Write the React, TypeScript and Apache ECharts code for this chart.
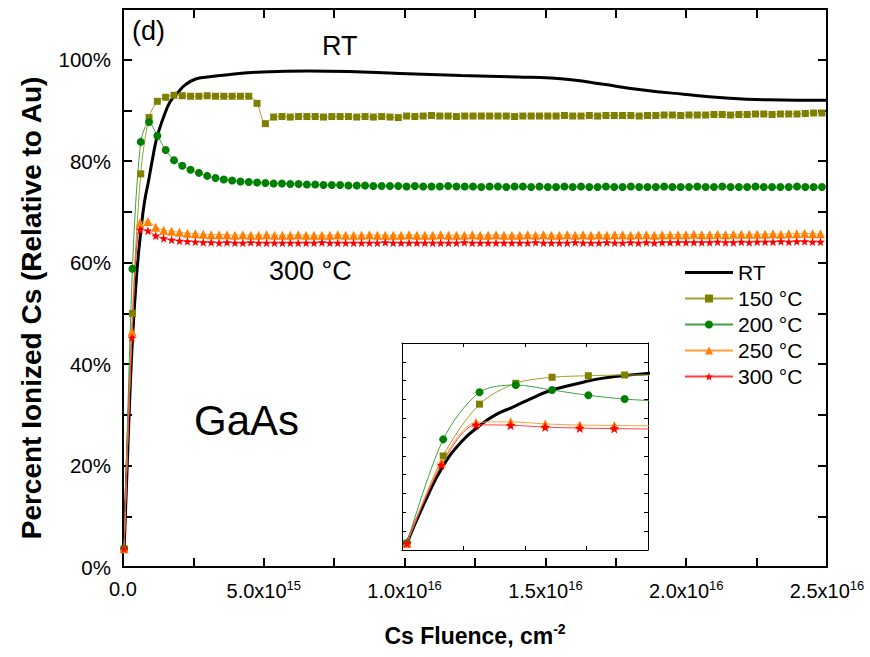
import React, { useEffect, useRef } from 'react';
import * as echarts from 'echarts';

const FONT = '"Liberation Sans", Arial, Helvetica, sans-serif';

// ---- axis ticks ----
const xTickMantissa = ['0.0', '5.0x10', '1.0x10', '1.5x10', '2.0x10', '2.5x10'];
const xTickExponent = ['', '15', '16', '16', '16', '16'];
const seriesNames = ['RT', '150 °C', '200 °C', '250 °C', '300 °C'];
const yTitle = 'Percent Ionized Cs (Relative to Au)';

// ---- RT (black curve) ----
const rtFluence = [0.04e15, 0.187e15, 0.331e15, 0.485e15, 0.62e15, 0.756e15, 0.91e15, 1.054e15, 1.195e15, 1.352e15, 1.488e15, 1.623e15, 1.772e15, 1.99e15, 2.2e15, 2.58e15, 3.0e15, 3.65e15, 4.95e15, 6.6e15, 8.0e15, 9.84e15, 1.2e16, 1.4e16, 1.52e16, 1.6e16, 1.7e16, 1.84e16, 1.99e16, 2.13e16, 2.29e16, 2.5e16];
const rtPercent = [3.6, 25.7, 44.3, 57.6, 65.5, 71.7, 76.2, 80.6, 84.5, 87.3, 89.4, 91.2, 92.5, 93.8, 95.0, 96.2, 96.6, 97.0, 97.6, 97.8, 97.7, 97.3, 96.9, 96.6, 96.4, 96.0, 95.2, 94.1, 93.2, 92.5, 92.1, 92.0];

// ---- sampling grids (fluence, cm^-2) ----
const gridAStart = 0.04e15, gridAStep = 0.295e15; // 150 °C, 200 °C
const gridBStart = 0.04e15, gridBStep = 0.281e15; // 250 °C, 300 °C

const p150 = [
  3.6, 50.0, 77.5, 88.6, 91.8, 92.6, 93.0, 92.9, 92.8, 92.8,
  92.9, 92.8, 92.8, 92.8, 92.8, 92.8, 91.4, 87.4, 88.7, 88.8,
  88.7, 88.8, 88.8, 88.8, 88.7, 88.8, 88.8, 88.8, 88.7, 88.8,
  88.7, 88.8, 88.7, 88.6, 88.9, 88.8, 88.9, 89.0, 88.9, 88.9,
  88.8, 88.9, 88.9, 88.9, 88.9, 88.9, 88.9, 88.8, 88.9, 88.9,
  88.9, 88.9, 88.9, 89.0, 88.9, 88.9, 89.0, 88.9, 89.0, 89.0,
  89.0, 89.0, 88.9, 89.0, 89.0, 89.1, 89.1, 89.0, 89.1, 89.1,
  89.1, 89.2, 89.2, 89.1, 89.2, 89.2, 89.3, 89.3, 89.2, 89.3,
  89.3, 89.3, 89.4, 89.5, 89.5,
];
const p200 = [
  3.6, 58.8, 83.8, 87.7, 85.0, 82.2, 80.2, 79.1, 78.3, 77.7,
  77.1, 76.7, 76.4, 76.2, 76.0, 75.9, 75.8, 75.7, 75.6, 75.6,
  75.5, 75.5, 75.4, 75.4, 75.3, 75.3, 75.3, 75.2, 75.2, 75.2,
  75.1, 75.1, 75.1, 75.1, 75.0, 75.1, 75.0, 75.0, 75.0, 75.1,
  75.0, 75.0, 75.0, 74.9, 75.0, 75.0, 74.9, 75.0, 75.0, 74.9,
  75.0, 74.9, 74.9, 75.0, 74.9, 75.0, 74.9, 74.9, 75.0, 74.9,
  74.9, 75.0, 74.9, 74.9, 74.9, 75.0, 74.9, 74.9, 74.9, 75.0,
  74.9, 74.9, 75.0, 74.9, 74.9, 74.9, 75.0, 74.9, 74.9, 74.9,
  74.9, 75.0, 74.9, 74.9, 74.9,
];
const p250 = [
  3.6, 46.4, 67.8, 68.1, 67.0, 66.4, 66.2, 66.0, 65.8, 65.7,
  65.6, 65.5, 65.5, 65.5, 65.4, 65.5, 65.4, 65.4, 65.5, 65.4,
  65.4, 65.4, 65.5, 65.4, 65.4, 65.4, 65.4, 65.5, 65.4, 65.4,
  65.4, 65.5, 65.4, 65.4, 65.4, 65.4, 65.5, 65.4, 65.4, 65.4,
  65.5, 65.4, 65.4, 65.4, 65.5, 65.4, 65.4, 65.5, 65.4, 65.4,
  65.4, 65.5, 65.4, 65.5, 65.4, 65.4, 65.5, 65.4, 65.5, 65.4,
  65.5, 65.4, 65.5, 65.5, 65.4, 65.5, 65.5, 65.4, 65.5, 65.5,
  65.5, 65.5, 65.6, 65.5, 65.5, 65.6, 65.5, 65.6, 65.6, 65.6,
  65.6, 65.6, 65.7, 65.6, 65.7, 65.7, 65.8, 65.7, 65.7,
];
const p300 = [
  3.6, 45.2, 66.5, 66.3, 65.3, 64.8, 64.5, 64.3, 64.2, 64.1,
  64.0, 64.0, 63.9, 64.0, 63.9, 63.9, 64.0, 63.9, 63.9, 63.9,
  63.9, 63.9, 63.9, 63.9, 63.9, 64.0, 63.9, 63.9, 63.9, 63.9,
  63.9, 63.9, 63.9, 64.0, 63.9, 63.9, 63.9, 63.9, 63.9, 63.9,
  63.9, 63.9, 63.9, 64.0, 63.9, 63.9, 63.9, 63.9, 63.9, 63.9,
  63.9, 63.9, 64.0, 63.9, 63.9, 63.9, 63.9, 64.0, 63.9, 63.9,
  63.9, 64.0, 63.9, 63.9, 64.0, 63.9, 64.0, 63.9, 64.0, 64.0,
  64.0, 64.0, 64.0, 64.0, 64.0, 64.1, 64.0, 64.0, 64.1, 64.0,
  64.1, 64.1, 64.1, 64.2, 64.1, 64.2, 64.2, 64.1, 64.1,
];

const STAR = 'path://M0,-10L2.35,-3.24L9.51,-3.09L3.8,1.24L5.88,8.09L0,4L-5.88,8.09L-3.8,1.24L-9.51,-3.09L-2.35,-3.24Z';

function pairs(start: number, step: number, ys: number[]) {
  return ys.map((y, i) => [start + i * step, y]);
}

const palette = {
  rt: '#000000',
  p150: '#808000',
  p200: '#008000',
  p250: '#ff8000',
  p300: '#ff0000',
};

function buildSeries(xi: number, yi: number, inset: boolean) {
  const mk = (name: string, data: number[][], color: string, symbol: string, size: number, lineColor: string) => ({
    type: 'line',
    name,
    xAxisIndex: xi,
    yAxisIndex: yi,
    data,
    symbol,
    symbolSize: size,
    showSymbol: true,
    smooth: 0.3,
    clip: true,
    itemStyle: { color },
    lineStyle: { color: lineColor, width: 1 },
    emphasis: { disabled: true },
  });
  return [
    {
      type: 'line',
      name: 'RT',
      xAxisIndex: xi,
      yAxisIndex: yi,
      data: rtFluence.map((x, i) => [x, rtPercent[i]]),
      symbol: 'none',
      smooth: 0.5,
      clip: true,
      itemStyle: { color: palette.rt },
      lineStyle: { color: palette.rt, width: 3 },
      emphasis: { disabled: true },
    },
    mk('150 °C', pairs(gridAStart, gridAStep, p150), palette.p150, 'rect', 7, '#a0a030'),
    mk('200 °C', pairs(gridAStart, gridAStep, p200), palette.p200, 'circle', 8, '#40a040'),
    mk('250 °C', pairs(gridBStart, gridBStep, p250), palette.p250, 'triangle', 9, '#ffa040'),
    mk('300 °C', pairs(gridBStart, gridBStep, p300), palette.p300, STAR, inset ? 10 : 9, '#ff4040'),
  ];
}

const isMult = (v: number, m: number) => Math.abs(v / m - Math.round(v / m)) < 1e-6;

const mainAxisLine = { show: true, onZero: false, lineStyle: { color: '#000', width: 2 } };
const mainTick = { show: true, inside: true, length: 9, lineStyle: { color: '#000', width: 2 } };
const insetAxisLine = { show: true, onZero: false, lineStyle: { color: '#000', width: 1 } };
const insetTick = { show: true, inside: true, length: 4, lineStyle: { color: '#000', width: 1 } };

const option: any = {
  animation: false,
  backgroundColor: '#fff',
  textStyle: { fontFamily: FONT },
  grid: [
    { left: 123, top: 9, width: 704, height: 558, containLabel: false },
    { left: 402, top: 343, width: 246, height: 207, containLabel: false, show: true, backgroundColor: '#fff', borderWidth: 0 },
  ],
  xAxis: [
    {
      type: 'value', gridIndex: 0, position: 'bottom', min: 0, max: 2.5e16, interval: 2.5e15,
      axisLine: mainAxisLine, axisTick: mainTick, splitLine: { show: false },
      axisLabel: {
        margin: 12,
        color: '#000',
        formatter: (v: number) => {
          if (!isMult(v, 5e15)) return '';
          const i = Math.round(v / 5e15);
          return xTickExponent[i] ? `{m|${xTickMantissa[i]}}{e|${xTickExponent[i]}}` : `{m|${xTickMantissa[i]}}`;
        },
        rich: {
          m: { fontSize: 20, fontFamily: FONT, color: '#000' },
          e: { fontSize: 13, fontFamily: FONT, color: '#000', verticalAlign: 'top', padding: [0, 0, 11, 0] },
        },
      },
      name: '{t|Cs Fluence, cm}{s|-2}',
      nameLocation: 'middle',
      nameGap: 55,
      nameTextStyle: {
        rich: {
          t: { fontSize: 23, fontWeight: 'bold', fontFamily: FONT, color: '#000' },
          s: { fontSize: 14, fontWeight: 'bold', fontFamily: FONT, color: '#000', verticalAlign: 'top', padding: [0, 0, 14, 0] },
        },
      },
    },
    {
      type: 'value', gridIndex: 0, position: 'top', min: 0, max: 2.5e16, interval: 2.5e15,
      axisLine: mainAxisLine, axisTick: mainTick, splitLine: { show: false }, axisLabel: { show: false },
    },
    {
      type: 'value', gridIndex: 1, position: 'bottom', min: 0, max: 2e15, interval: 5e14,
      axisLine: insetAxisLine, axisTick: insetTick, splitLine: { show: false }, axisLabel: { show: false },
    },
    {
      type: 'value', gridIndex: 1, position: 'top', min: 0, max: 2e15, interval: 5e14,
      axisLine: insetAxisLine, axisTick: insetTick, splitLine: { show: false }, axisLabel: { show: false },
    },
  ],
  yAxis: [
    {
      type: 'value', gridIndex: 0, position: 'left', min: 0, max: 110, interval: 10,
      axisLine: mainAxisLine, axisTick: mainTick, splitLine: { show: false },
      axisLabel: {
        margin: 12, fontSize: 20.5, color: '#000', fontFamily: FONT,
        formatter: (v: number) => (isMult(v, 20) && v <= 100 ? `${Math.round(v)}%` : ''),
      },
    },
    {
      type: 'value', gridIndex: 0, position: 'right', min: 0, max: 110, interval: 10,
      axisLine: mainAxisLine, axisTick: mainTick, splitLine: { show: false }, axisLabel: { show: false },
    },
    {
      type: 'value', gridIndex: 1, position: 'left', min: 0, max: 110, interval: 10,
      axisLine: insetAxisLine, axisTick: insetTick, splitLine: { show: false }, axisLabel: { show: false },
    },
    {
      type: 'value', gridIndex: 1, position: 'right', min: 0, max: 110, interval: 10,
      axisLine: insetAxisLine, axisTick: insetTick, splitLine: { show: false }, axisLabel: { show: false },
    },
  ],
  legend: {
    orient: 'vertical',
    left: 679,
    top: 257,
    itemWidth: 48,
    itemHeight: 10,
    itemGap: 5,
    selectedMode: false,
    textStyle: { fontSize: 21, color: '#000', fontFamily: FONT },
    data: [
      { name: seriesNames[0], icon: 'path://M0,0L48,0L48,3L0,3Z' },
      seriesNames[1], seriesNames[2], seriesNames[3], seriesNames[4],
    ],
  },
  graphic: [
    {
      type: 'text', x: 31, y: 308, rotation: Math.PI / 2,
      style: { text: yTitle, fontSize: 28, fontWeight: 'bold', fontFamily: FONT, fill: '#000', align: 'center', verticalAlign: 'middle' },
    },
    { type: 'text', left: 132, top: 17, style: { text: '(d)', fontSize: 27, fontFamily: FONT, fill: '#000' } },
    { type: 'text', left: 322, top: 32, style: { text: 'RT', fontSize: 27, fontFamily: FONT, fill: '#000' } },
    { type: 'text', left: 269, top: 257, style: { text: '300 °C', fontSize: 27, fontFamily: FONT, fill: '#000' } },
    { type: 'text', left: 194, top: 399, style: { text: 'GaAs', fontSize: 42, fontFamily: FONT, fill: '#000' } },
  ],
  series: [...buildSeries(0, 0, false), ...buildSeries(2, 2, true)],
};

export default function App() {
  const ref = useRef<HTMLDivElement>(null);
  useEffect(() => {
    const chart = echarts.init(ref.current!, null, { renderer: 'svg' });
    chart.setOption(option);
    return () => chart.dispose();
  }, []);
  return <div ref={ref} style={{ position: 'fixed', left: 0, top: 0, width: 870, height: 657 }} />;
}
